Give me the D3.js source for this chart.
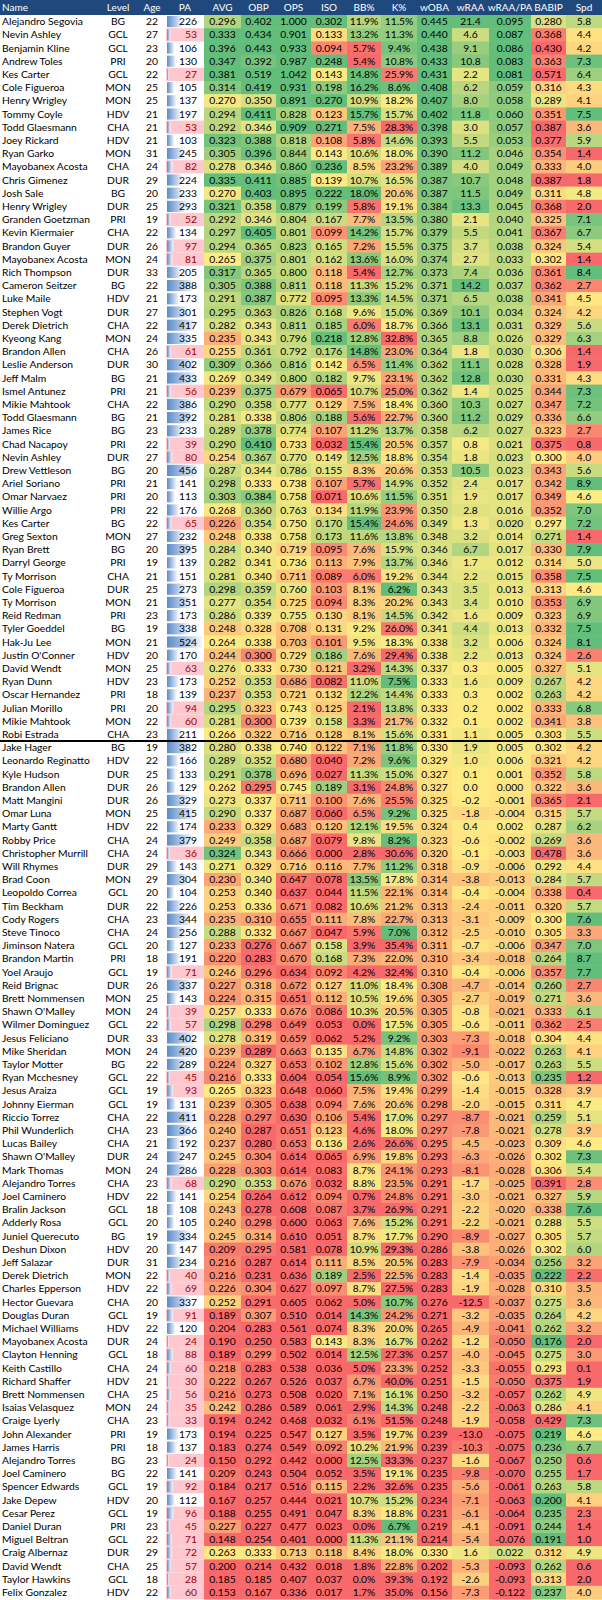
<!DOCTYPE html>
<html>
<head>
<meta charset="utf-8">
<script src="https://cdn.jsdelivr.net/npm/d3@7"></script>
<style>
  body { margin: 0; background: #fff; }
  text { font-family: Lato, "Open Sans", sans-serif; font-size: 10.3px; }
  .hdr { font-size: 10px; }
</style>
</head>
<body>
<script>

// ---- data, one list per column ----
const names = ["Alejandro Segovia","Nevin Ashley","Benjamin Kline","Andrew Toles","Kes Carter","Cole Figueroa","Henry Wrigley","Tommy Coyle","Todd Glaesmann","Joey Rickard",
"Ryan Garko","Mayobanex Acosta","Chris Gimenez","Josh Sale","Henry Wrigley","Granden Goetzman","Kevin Kiermaier","Brandon Guyer","Mayobanex Acosta","Rich Thompson",
"Cameron Seitzer","Luke Maile","Stephen Vogt","Derek Dietrich","Kyeong Kang","Brandon Allen","Leslie Anderson","Jeff Malm","Ismel Antunez","Mikie Mahtook",
"Todd Glaesmann","James Rice","Chad Nacapoy","Nevin Ashley","Drew Vettleson","Ariel Soriano","Omar Narvaez","Willie Argo","Kes Carter","Greg Sexton",
"Ryan Brett","Darryl George","Ty Morrison","Cole Figueroa","Ty Morrison","Reid Redman","Tyler Goeddel","Hak-Ju Lee","Justin O'Conner","David Wendt",
"Ryan Dunn","Oscar Hernandez","Julian Morillo","Mikie Mahtook","Robi Estrada",
"Jake Hager","Leonardo Reginatto","Kyle Hudson","Brandon Allen","Matt Mangini","Omar Luna","Marty Gantt","Robby Price","Christopher Murrill","Will Rhymes",
"Brad Coon","Leopoldo Correa","Tim Beckham","Cody Rogers","Steve Tinoco","Jiminson Natera","Brandon Martin","Yoel Araujo","Reid Brignac","Brett Nommensen",
"Shawn O'Malley","Wilmer Dominguez","Jesus Feliciano","Mike Sheridan","Taylor Motter","Ryan Mcchesney","Jesus Araiza","Johnny Eierman","Riccio Torrez","Phil Wunderlich",
"Lucas Bailey","Shawn O'Malley","Mark Thomas","Alejandro Torres","Joel Caminero","Bralin Jackson","Adderly Rosa","Juniel Querecuto","Deshun Dixon","Jeff Salazar",
"Derek Dietrich","Charles Epperson","Hector Guevara","Douglas Duran","Michael Williams","Mayobanex Acosta","Clayton Henning","Keith Castillo","Richard Shaffer","Brett Nommensen",
"Isaias Velasquez","Craige Lyerly","John Alexander","James Harris","Alejandro Torres","Joel Caminero","Spencer Edwards","Jake Depew","Cesar Perez","Daniel Duran",
"Miguel Beltran","Craig Albernaz","David Wendt","Taylor Hawkins","Felix Gonzalez"];

const levels = ["BG","GCL","GCL","PRI","GCL","MON","MON","HDV","CHA","HDV",
"MON","CHA","DUR","BG","DUR","PRI","CHA","DUR","MON","DUR",
"BG","HDV","DUR","CHA","MON","CHA","DUR","BG","PRI","CHA",
"BG","BG","PRI","DUR","BG","PRI","PRI","PRI","BG","MON",
"BG","PRI","CHA","DUR","MON","PRI","BG","MON","HDV","MON",
"HDV","PRI","PRI","MON","CHA",
"BG","HDV","DUR","DUR","DUR","MON","HDV","CHA","CHA","DUR",
"MON","GCL","DUR","CHA","CHA","GCL","PRI","GCL","DUR","MON",
"MON","GCL","DUR","MON","BG","GCL","GCL","GCL","CHA","CHA",
"CHA","DUR","MON","CHA","HDV","GCL","GCL","BG","HDV","DUR",
"MON","HDV","CHA","GCL","HDV","DUR","GCL","CHA","HDV","CHA",
"MON","CHA","PRI","PRI","BG","BG","GCL","HDV","GCL","PRI",
"GCL","DUR","CHA","GCL","HDV"];

const ages = [22,27,23,20,22,25,25,21,21,21, 31,24,29,20,25,19,22,26,24,33,
22,21,27,22,24,26,30,21,21,22, 21,23,22,27,20,21,20,22,22,27,
20,19,21,25,21,23,19,21,20,25, 23,18,20,22,23,
19,22,25,26,26,25,22,24,24,29, 29,20,22,23,24,20,18,19,26,25,
24,22,33,24,22,22,19,19,22,23, 21,24,24,23,22,18,20,19,20,31,
22,22,20,19,22,24,18,24,21,25, 24,23,19,18,23,22,19,20,19,23,
22,29,25,18,22];

const pa = [226,53,106,130,27,105,137,197,53,103, 245,82,224,233,293,52,134,97,81,205,
388,173,301,417,335,61,402,433,56,386, 392,233,39,80,456,141,113,176,65,232,
395,139,151,273,351,173,338,524,170,63, 173,139,94,60,211,
382,166,133,129,329,415,174,379,36,143, 304,104,226,344,256,127,191,71,337,143,
39,57,402,420,289,45,93,131,411,366, 192,247,286,68,141,108,105,334,147,234,
40,69,337,91,120,24,88,60,30,56, 35,33,173,137,24,141,92,112,96,45,
71,72,57,28,60];

const avg = [.296,.333,.396,.347,.381,.314,.270,.294,.292,.323, .305,.278,.335,.270,.321,.292,.297,.294,.265,.317,
.305,.291,.295,.282,.235,.255,.309,.269,.239,.290, .281,.289,.290,.254,.287,.298,.303,.268,.226,.248,
.284,.282,.281,.298,.277,.286,.248,.264,.244,.276, .252,.237,.295,.281,.266,
.280,.289,.291,.262,.273,.290,.233,.249,.324,.271, .230,.253,.253,.235,.288,.233,.220,.246,.227,.224,
.257,.298,.278,.239,.224,.216,.265,.239,.228,.240, .237,.245,.228,.290,.254,.243,.240,.245,.209,.216,
.216,.226,.252,.189,.204,.190,.189,.218,.222,.216, .242,.194,.194,.183,.150,.209,.184,.167,.188,.227,
.148,.263,.200,.185,.153];

const obp = [.402,.434,.443,.392,.519,.419,.350,.411,.346,.388, .396,.346,.411,.403,.358,.346,.405,.365,.375,.365,
.388,.387,.363,.343,.343,.361,.366,.349,.375,.358, .338,.378,.410,.367,.344,.333,.384,.360,.354,.338,
.340,.341,.340,.359,.354,.339,.328,.338,.300,.333, .353,.353,.323,.300,.322,
.338,.352,.378,.295,.337,.337,.329,.358,.343,.329, .340,.340,.336,.310,.332,.276,.283,.296,.318,.315,
.333,.298,.319,.289,.327,.333,.323,.305,.297,.287, .280,.304,.303,.353,.264,.278,.298,.314,.295,.287,
.231,.304,.291,.307,.283,.250,.299,.283,.267,.273, .286,.242,.225,.274,.292,.243,.217,.257,.255,.227,
.254,.333,.214,.185,.167];

const ops = [1.000,.901,.933,.987,1.042,.931,.891,.828,.909,.818, .844,.860,.885,.895,.879,.804,.801,.823,.801,.800,
.811,.772,.826,.811,.796,.792,.816,.800,.679,.777, .806,.774,.733,.770,.786,.738,.758,.763,.750,.758,
.719,.736,.711,.760,.725,.755,.708,.703,.729,.730, .686,.721,.743,.739,.716,
.740,.680,.696,.745,.711,.687,.683,.687,.666,.716, .647,.637,.671,.655,.667,.667,.670,.634,.672,.651,
.676,.649,.659,.663,.653,.604,.648,.638,.630,.651, .653,.614,.614,.676,.612,.608,.600,.610,.581,.614,
.636,.627,.605,.510,.561,.583,.502,.538,.526,.508, .589,.468,.547,.549,.442,.504,.516,.444,.491,.477,
.401,.713,.432,.407,.336];

const iso = [.302,.133,.094,.248,.143,.198,.270,.123,.271,.108, .143,.236,.139,.222,.199,.167,.099,.165,.162,.118,
.118,.095,.168,.185,.218,.176,.142,.182,.065,.129, .188,.107,.032,.149,.155,.107,.071,.134,.170,.173,
.095,.113,.089,.103,.094,.130,.131,.101,.186,.121, .082,.132,.125,.158,.128,
.122,.040,.027,.189,.100,.060,.120,.079,.000,.116, .078,.044,.082,.111,.047,.158,.168,.092,.127,.112,
.086,.053,.062,.135,.102,.054,.060,.094,.106,.123, .136,.065,.083,.032,.094,.087,.063,.051,.078,.111,
.189,.097,.062,.014,.074,.143,.014,.036,.037,.020, .061,.032,.127,.092,.000,.052,.115,.021,.047,.023,
.000,.118,.018,.037,.017];

const bbPct = [11.9,13.2,5.7,5.4,14.8,16.2,10.9,15.7,7.5,5.8, 10.6,8.5,10.7,18.0,5.8,7.7,14.2,7.2,13.6,5.4,
11.3,13.3,9.6,6.0,12.8,14.8,6.5,9.7,10.7,7.5, 5.6,11.2,15.4,12.5,8.3,5.7,10.6,11.9,15.4,11.6,
7.6,7.9,6.0,8.1,8.3,8.1,9.2,9.5,7.6,3.2, 11.0,12.2,2.1,3.3,8.1,
7.1,7.2,11.3,3.1,7.6,6.5,12.1,9.8,2.8,7.7, 13.5,11.5,10.6,7.8,5.9,3.9,7.3,4.2,11.0,10.5,
10.3,0.0,5.2,6.7,12.8,15.6,7.5,7.6,5.4,4.6, 2.6,6.9,8.7,8.8,0.7,3.7,7.6,8.7,10.9,8.5,
2.5,8.7,5.0,14.3,8.3,8.3,12.5,5.0,6.7,7.1, 2.9,6.1,3.5,10.2,12.5,3.5,2.2,10.7,8.3,0.0,
11.3,8.4,1.8,0.0,1.7];

const kPct = [11.5,11.3,9.4,10.8,25.9,8.6,18.2,15.7,28.3,14.6, 18.0,23.2,16.5,20.6,19.1,13.5,15.7,15.5,16.0,12.7,
15.2,14.5,15.0,18.7,32.8,23.0,11.4,23.1,25.0,18.4, 22.7,13.7,20.5,18.8,20.6,14.9,11.5,23.9,24.6,13.8,
15.9,13.7,19.2,6.2,20.2,14.5,26.0,18.3,29.4,14.3, 7.5,14.4,13.8,21.7,15.6,
11.8,9.6,15.0,24.8,25.5,9.2,19.5,8.2,30.6,11.2, 17.8,22.1,21.2,22.7,7.0,35.4,22.0,32.4,18.4,19.6,
20.5,17.5,9.2,14.8,15.6,8.9,19.4,20.6,17.0,18.0, 26.6,19.8,24.1,23.5,24.8,26.9,15.2,17.7,29.3,20.5,
22.5,27.5,10.7,24.2,20.0,16.7,27.3,23.3,40.0,16.1, 14.3,51.5,19.7,21.9,33.3,19.1,32.6,15.2,18.8,6.7,
21.1,18.0,22.8,39.3,35.0];

const woba = [.445,.440,.438,.433,.431,.408,.407,.402,.398,.393, .390,.389,.387,.387,.384,.380,.379,.375,.374,.373,
.371,.371,.369,.366,.365,.364,.362,.362,.362,.360, .360,.358,.357,.354,.353,.352,.351,.350,.349,.348,
.346,.346,.344,.343,.343,.342,.341,.338,.338,.337, .333,.333,.333,.332,.331,
.330,.329,.327,.327,.325,.325,.324,.323,.320,.318, .314,.314,.313,.313,.312,.311,.310,.310,.308,.305,
.305,.305,.303,.302,.302,.302,.299,.298,.297,.297, .295,.293,.293,.291,.291,.291,.291,.290,.286,.283,
.283,.283,.276,.271,.265,.262,.257,.252,.251,.250, .248,.248,.239,.239,.237,.235,.235,.234,.231,.219,
.214,.330,.202,.192,.156];

const wraa = [21.4,4.6,9.1,10.8,2.2,6.2,8.0,11.8,3.0,5.5, 11.2,4.0,10.7,11.5,13.3,2.1,5.5,3.7,2.7,7.4,
14.2,6.5,10.1,13.1,8.8,1.8,11.1,12.8,1.4,10.3, 11.2,6.2,0.8,1.8,10.5,2.4,1.9,2.8,1.3,3.2,
6.7,1.7,2.2,3.5,3.4,1.6,4.4,3.2,2.2,0.3, 1.6,0.3,0.2,0.1,1.1,
1.9,1.0,0.1,0.0,-0.2,-1.8,0.4,-0.6,-0.1,-0.9, -3.8,-0.4,-2.4,-3.1,-2.5,-0.7,-3.4,-0.4,-4.7,-2.7,
-0.8,-0.6,-7.3,-9.1,-5.0,-0.6,-1.4,-2.0,-8.7,-7.8, -4.5,-6.3,-8.1,-1.7,-3.0,-2.2,-2.2,-8.9,-3.8,-7.9,
-1.4,-1.9,-12.5,-3.2,-4.9,-1.2,-4.0,-3.3,-1.5,-3.2, -2.2,-1.9,-13.0,-10.3,-1.6,-9.8,-5.6,-7.1,-6.1,-4.1,
-5.4,1.6,-5.3,-2.6,-7.3];

const wraaPa = [.095,.087,.086,.083,.081,.059,.058,.060,.057,.053, .046,.049,.048,.049,.045,.040,.041,.038,.033,.036,
.037,.038,.034,.031,.026,.030,.028,.030,.025,.027, .029,.027,.021,.023,.023,.017,.017,.016,.020,.014,
.017,.012,.015,.013,.010,.009,.013,.006,.013,.005, .009,.002,.002,.002,.005,
.005,.006,.001,.000,-.001,-.004,.002,-.002,-.003,-.006, -.013,-.004,-.011,-.009,-.010,-.006,-.018,-.006,-.014,-.019,
-.021,-.011,-.018,-.022,-.017,-.013,-.015,-.015,-.021,-.021, -.023,-.026,-.028,-.025,-.021,-.020,-.021,-.027,-.026,-.034,
-.035,-.028,-.037,-.035,-.041,-.050,-.045,-.055,-.050,-.057, -.063,-.058,-.075,-.075,-.067,-.070,-.061,-.063,-.064,-.091,
-.076,.022,-.093,-.093,-.122];

const babip = [.280,.368,.430,.363,.571,.316,.289,.351,.387,.377, .354,.333,.387,.311,.368,.325,.367,.324,.302,.361,
.362,.341,.324,.329,.329,.306,.328,.331,.344,.347, .336,.323,.375,.300,.343,.342,.349,.352,.297,.271,
.330,.314,.358,.313,.353,.323,.332,.324,.324,.327, .267,.263,.333,.341,.303,
.302,.321,.352,.322,.365,.315,.287,.269,.478,.292, .284,.338,.320,.300,.305,.347,.264,.357,.260,.271,
.333,.362,.304,.263,.263,.235,.328,.311,.259,.278, .309,.302,.306,.391,.327,.338,.288,.305,.302,.256,
.222,.310,.275,.264,.262,.176,.275,.293,.375,.262, .286,.429,.219,.236,.250,.255,.263,.200,.235,.244,
.191,.312,.262,.313,.237];

const spd = [5.8,4.4,4.2,7.3,6.4,4.3,4.1,7.5,3.6,5.9, 1.4,4.0,1.8,4.8,2.0,7.1,6.7,5.4,1.4,8.4,
2.7,4.5,4.2,5.6,6.3,1.4,1.9,4.3,7.3,7.2, 6.6,2.7,0.8,4.0,5.6,8.9,4.6,7.0,7.2,1.4,
7.9,5.0,7.5,4.6,6.9,6.9,7.5,8.1,2.6,5.1, 4.2,4.2,6.8,3.8,5.5,
4.2,4.2,5.8,3.6,2.1,5.7,6.2,3.6,3.6,4.4, 5.7,0.4,5.7,7.6,3.3,7.0,8.7,7.7,2.7,3.6,
6.1,2.5,4.4,4.1,5.5,1.2,3.9,4.7,5.1,3.9, 4.6,7.3,5.4,2.8,5.9,7.6,5.5,5.7,6.0,3.2,
2.2,3.5,3.6,4.2,3.2,2.0,3.0,0.1,1.9,4.9, 4.1,7.3,4.6,6.7,0.6,1.7,5.8,4.1,2.3,1.4,
1.0,4.9,0.6,2.0,4.0];

// rows 0..54 are above the black rule
const splitAfter = 55;

// ---- layout ----
const width = 602,
      headerH = 15,
      rowH = 13.2;

const red = "#F8696B", yellow = "#FFEB84", green = "#63BE7B";

const f3 = v => v.toFixed(3);
const f1 = v => v.toFixed(1);
const pct = v => v.toFixed(1) + "%";

// colour anchors: [red, yellow, green]
const statCols = [
  {label: "AVG",     values: avg,    fmt: f3,  w: 37, stops: [0.200, 0.265, 0.330]},
  {label: "OBP",     values: obp,    fmt: f3,  w: 35, stops: [0.290, 0.334, 0.400]},
  {label: "OPS",     values: ops,    fmt: f3,  w: 35, stops: [0.640, 0.740, 0.900]},
  {label: "ISO",     values: iso,    fmt: f3,  w: 36, stops: [0.080, 0.140, 0.220]},
  {label: "BB%",     values: bbPct,  fmt: pct, w: 34, stops: [5.5, 9.0, 15.0]},
  {label: "K%",      values: kPct,   fmt: pct, w: 36, stops: [27, 18.5, 8]},
  {label: "wOBA",    values: woba,   fmt: f3,  w: 35, stops: [0.285, 0.330, 0.400]},
  {label: "wRAA",    values: wraa,   fmt: f1,  w: 37, stops: [-12, 0, 14]},
  {label: "wRAA/PA", values: wraaPa, fmt: f3,  w: 42, stops: [-0.06, 0.003, 0.08]},
  {label: "BABIP",   values: babip,  fmt: f3,  w: 35, stops: [0.38, 0.30, 0.22]},
  {label: "Spd",     values: spd,    fmt: f1,  w: 36, stops: [2.1, 4.6, 7.5]}
];

const nameW = 98, levelW = 40, ageW = 28, paW = 38;
const n = names.length;

let svg = d3.select("body")
  .append("svg")
  .attr("width", width)
  .attr("height", headerH + n * rowH + 1);

let defs = svg.append("defs");
let grad = defs.append("linearGradient")
  .attr("id", "barGrad")
  .attr("x1", "0%").attr("x2", "100%");
grad.append("stop").attr("offset", "0%").attr("stop-color", "#5B8BCB");
grad.append("stop").attr("offset", "100%").attr("stop-color", "#F4F7FC");

let y = d3.scaleBand()
  .domain(d3.range(n))
  .range([headerH, headerH + n * rowH]);

// column x positions
const levelX = nameW, ageX = levelX + levelW, paX = ageX + ageW;
let x0 = paX + paW;
statCols.forEach(c => { c.x = x0; x0 += c.w; });

// header
svg.append("rect")
  .attr("x", 0).attr("y", 0)
  .attr("width", width).attr("height", headerH)
  .attr("fill", "#1F497D");

const headers = [
  {t: "Name", x: 2, a: "start"},
  {t: "Level", x: levelX + levelW / 2, a: "middle"},
  {t: "Age", x: ageX + ageW / 2, a: "middle"},
  {t: "PA", x: paX + paW / 2, a: "middle"}
].concat(statCols.map(c => ({t: c.label, x: c.x + c.w / 2, a: "middle"})));

svg.selectAll(".hdr")
  .data(headers)
  .enter()
  .append("text")
  .attr("class", "hdr")
  .attr("x", d => d.x)
  .attr("y", headerH / 2 + 3.8)
  .attr("text-anchor", d => d.a)
  .attr("fill", "#fff")
  .text(d => d.t);

let rows = svg.selectAll(".row")
  .data(d3.range(n))
  .enter()
  .append("g")
  .attr("class", "row")
  .attr("transform", i => `translate(0, ${y(i)})`);

const ty = rowH / 2 + 3.7;

rows.append("text")
  .attr("x", 2).attr("y", ty)
  .text(i => names[i]);

rows.append("text")
  .attr("x", levelX + levelW / 2).attr("y", ty)
  .attr("text-anchor", "middle")
  .text(i => levels[i]);

rows.append("text")
  .attr("x", ageX + ageW / 2).attr("y", ty)
  .attr("text-anchor", "middle")
  .text(i => ages[i]);

// PA: pink fill below 100, then data bar
let barX = d3.scaleLinear()
  .domain([0, d3.max(pa)])
  .range([0, paW - 3]);

rows.filter(i => pa[i] < 100)
  .append("rect")
  .attr("x", paX).attr("y", 0)
  .attr("width", paW).attr("height", rowH)
  .attr("fill", "#FFC7CE");

rows.append("rect")
  .attr("x", paX + 1).attr("y", 1)
  .attr("width", i => barX(pa[i]))
  .attr("height", rowH - 2)
  .attr("fill", "url(#barGrad)");

rows.append("text")
  .attr("x", paX + paW - 7).attr("y", ty)
  .attr("text-anchor", "end")
  .attr("fill", i => pa[i] < 100 ? "#9C0006" : "#000")
  .text(i => pa[i]);

// colour-scaled stat cells
statCols.forEach(c => {
  let color = d3.scaleLinear()
    .domain(c.stops)
    .range([red, yellow, green])
    .clamp(true);

  rows.append("rect")
    .attr("x", c.x).attr("y", 0)
    .attr("width", c.w + 0.5).attr("height", rowH + 0.5)
    .attr("fill", i => color(c.values[i]));

  rows.append("text")
    .attr("x", c.x + c.w / 2).attr("y", ty)
    .attr("text-anchor", "middle")
    .text(i => c.fmt(c.values[i]));
});

// rule between the two groups
svg.append("line")
  .attr("x1", 0).attr("x2", width)
  .attr("y1", y(splitAfter)).attr("y2", y(splitAfter))
  .attr("stroke", "#000")
  .attr("stroke-width", 2);

</script>
</body>
</html>
